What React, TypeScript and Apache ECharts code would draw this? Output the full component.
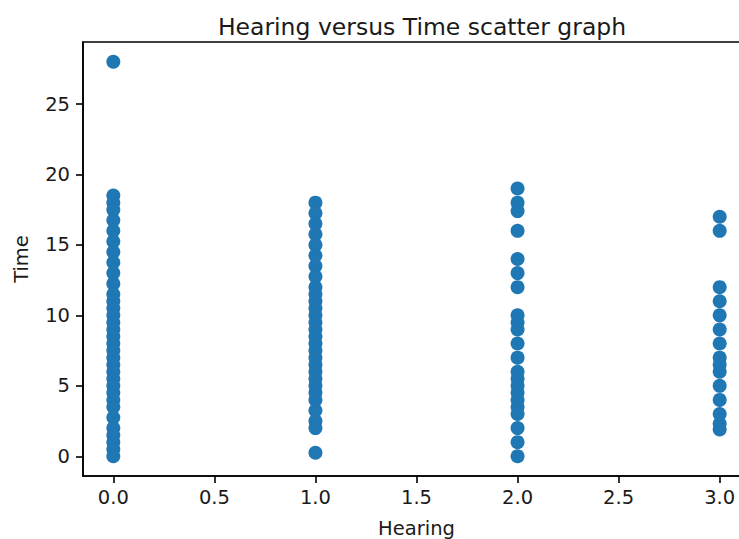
import React, { useEffect, useRef } from "react";
import * as echarts from "echarts";

// Recorded times for each hearing level
const hearingLevels = [0, 1, 2, 3];
const timeAtHearing0 = [28, 18.5, 18, 17.5, 16.75, 16, 15.25, 14.5, 13.75, 13, 12.25, 11.5, 11, 10.5, 10, 9.5, 9, 8.5, 8, 7.5, 7, 6.5, 6, 5.5, 5, 4.5, 4, 3.5, 2.75, 2, 1.5, 1, 0.5, 0];
const timeAtHearing1 = [18, 17.25, 16.5, 15.75, 15, 14.25, 13.5, 12.75, 12, 11.5, 11, 10.5, 10, 9.5, 9, 8.5, 8, 7.5, 7, 6.5, 6, 5.5, 5, 4.5, 4, 3.25, 2.5, 2, 0.25];
const timeAtHearing2 = [19, 18, 17.4, 16, 14, 13, 12, 10, 9.5, 9, 8, 7, 6, 5.5, 5, 4.5, 4, 3.5, 3, 2, 1, 0];
const timeAtHearing3 = [17, 16, 12, 11, 10, 9, 8, 7, 6.5, 6, 5, 4, 3, 2.3, 1.9];

const xTicks = [0, 0.5, 1, 1.5, 2, 2.5, 3];
const yTicks = [0, 5, 10, 15, 20, 25];

const FONT = "DejaVu Sans";
const TEXT = "#1a1a1a";

export default function App() {
  const ref = useRef<HTMLDivElement>(null);

  useEffect(() => {
    if (!ref.current) return;
    const chart = echarts.init(ref.current, null, { renderer: "svg" });

    const columns = [timeAtHearing0, timeAtHearing1, timeAtHearing2, timeAtHearing3];
    const points: number[][] = [];
    columns.forEach((times, i) => {
      times.forEach((t) => points.push([hearingLevels[i], t]));
    });

    chart.setOption({
      animation: false,
      backgroundColor: "#ffffff",
      title: {
        text: "Hearing versus Time scatter graph",
        left: 417,
        top: 10,
        textAlign: "center",
        textStyle: { fontFamily: FONT, fontSize: 23.5, fontWeight: "normal", color: TEXT },
      },
      grid: {
        left: 83,
        top: 42,
        width: 667,
        height: 434,
        outerBoundsMode: "none",
        containLabel: false,
        show: true,
        borderColor: "#000",
        borderWidth: 1.6,
        backgroundColor: "transparent",
      },
      xAxis: {
        type: "value",
        min: -0.15,
        max: 3.15,
        name: "Hearing",
        nameLocation: "middle",
        nameGap: 42,
        nameTextStyle: { fontFamily: FONT, fontSize: 19.5, color: TEXT },
        axisLine: { show: true, onZero: false, lineStyle: { color: "#000", width: 1.6 } },
        axisTick: {
          show: true,
          length: 7,
          inside: false,
          customValues: xTicks,
          lineStyle: { color: "#000", width: 1.6 },
        },
        axisLabel: {
          customValues: xTicks,
          margin: 11,
          fontFamily: FONT,
          fontSize: 19.5,
          color: TEXT,
          formatter: (v: number) => v.toFixed(1),
        },
        splitLine: { show: false },
      },
      yAxis: {
        type: "value",
        min: -1.4,
        max: 29.4,
        name: "Time",
        nameLocation: "middle",
        nameGap: 52,
        nameTextStyle: { fontFamily: FONT, fontSize: 19.5, color: TEXT },
        axisLine: { show: true, onZero: false, lineStyle: { color: "#000", width: 1.6 } },
        axisTick: {
          show: true,
          length: 7,
          inside: false,
          customValues: yTicks,
          lineStyle: { color: "#000", width: 1.6 },
        },
        axisLabel: {
          customValues: yTicks,
          margin: 13,
          fontFamily: FONT,
          fontSize: 19.5,
          color: TEXT,
          formatter: (v: number) => String(v),
        },
        splitLine: { show: false },
      },
      series: [
        {
          type: "scatter",
          data: points,
          symbol: "circle",
          symbolSize: 14,
          itemStyle: { color: "#1f77b4", opacity: 1 },
        },
      ],
    });

    return () => chart.dispose();
  }, []);

  return (
    <div
      ref={ref}
      style={{ position: "fixed", left: 0, top: 0, width: 739, height: 539, background: "#fff" }}
    />
  );
}
